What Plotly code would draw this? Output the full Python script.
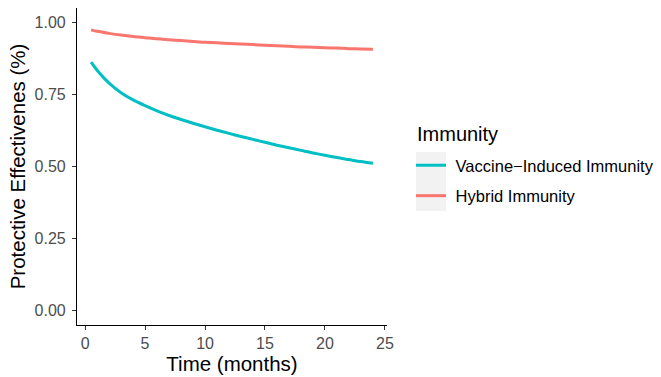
import plotly.graph_objects as go

months = [0.5, 1, 2, 3, 4, 5, 6, 7, 8, 9, 10, 11, 12, 13, 14, 15, 16, 17, 18, 19, 20, 21, 22, 23, 24]
vaccine = [0.862, 0.834, 0.789, 0.756, 0.731, 0.711, 0.693, 0.677, 0.663, 0.650, 0.638, 0.626, 0.615,
           0.604, 0.594, 0.584, 0.574, 0.565, 0.556, 0.547, 0.539, 0.531, 0.524, 0.517, 0.511]
hybrid = [0.974, 0.969, 0.962, 0.956, 0.951, 0.947, 0.943, 0.940, 0.937, 0.934, 0.931, 0.929, 0.927,
          0.925, 0.923, 0.921, 0.919, 0.917, 0.915, 0.914, 0.912, 0.911, 0.909, 0.908, 0.907]
x_ticks = [0, 5, 10, 15, 20, 25]
y_ticks = [0.0, 0.25, 0.5, 0.75, 1.0]

FONT = "Liberation Sans, Arial, Helvetica, sans-serif"
NB = "\u00a0"

fig = go.Figure()
fig.add_trace(go.Scatter(x=months, y=vaccine, mode="lines", name=NB + "Vaccine\u2212Induced Immunity",
                         line=dict(color="#00BFC4", width=3, shape="spline", smoothing=0.8), legendgroup="a"))
fig.add_trace(go.Scatter(x=months, y=hybrid, mode="lines", name=NB + "Hybrid Immunity",
                         line=dict(color="#F8766D", width=3, shape="spline", smoothing=0.8), legendgroup="b"))

W, H = 661, 377
L, R, T, B = 77, 274, 8, 52
pw, ph = W - L - R, H - T - B

def px2x(p):
    return (p - L) / pw

def py2y(p):
    return (H - B - p) / ph

fig.add_shape(type="rect", xref="paper", yref="paper",
              x0=px2x(416), x1=px2x(446), y0=py2y(211), y1=py2y(152),
              fillcolor="#F2F2F2", line=dict(width=0), layer="below")

fig.add_annotation(text="Immunity", xref="paper", yref="paper", x=px2x(415), y=py2y(134),
                   xanchor="left", yanchor="middle", showarrow=False,
                   font=dict(family=FONT, size=20, color="black"))

axis_common = dict(showline=True, linecolor="black", linewidth=1.2, ticks="outside",
                   ticklen=4, tickwidth=1.2, tickcolor="#333333", showgrid=False, zeroline=False,
                   tickfont=dict(family=FONT, size=16, color="#4D4D4D"))

fig.update_layout(
    width=W, height=H,
    margin=dict(l=L, r=R, t=T, b=B, autoexpand=False),
    plot_bgcolor="white", paper_bgcolor="white",
    font=dict(family=FONT),
    xaxis=dict(range=[-0.675, 25.175], tickvals=x_ticks, ticktext=[str(v) for v in x_ticks],
               title=dict(text="Time (months)", font=dict(family=FONT, size=20.5, color="black"), standoff=3),
               **axis_common),
    yaxis=dict(range=[-0.05, 1.05], tickvals=y_ticks, ticktext=[f"{v:.2f}" for v in y_ticks],
               ticklabelstandoff=3,
               title=dict(text="Protective Effectivenes (%)", font=dict(family=FONT, size=20.5, color="black"), standoff=3),
               **axis_common),
    legend=dict(x=px2x(411), y=py2y(148), xanchor="left", yanchor="top",
                bgcolor="rgba(0,0,0,0)", traceorder="grouped", tracegroupgap=6,
                font=dict(family=FONT, size=16.5, color="black")),
    showlegend=True,
)

fig.write_html("out.html")
